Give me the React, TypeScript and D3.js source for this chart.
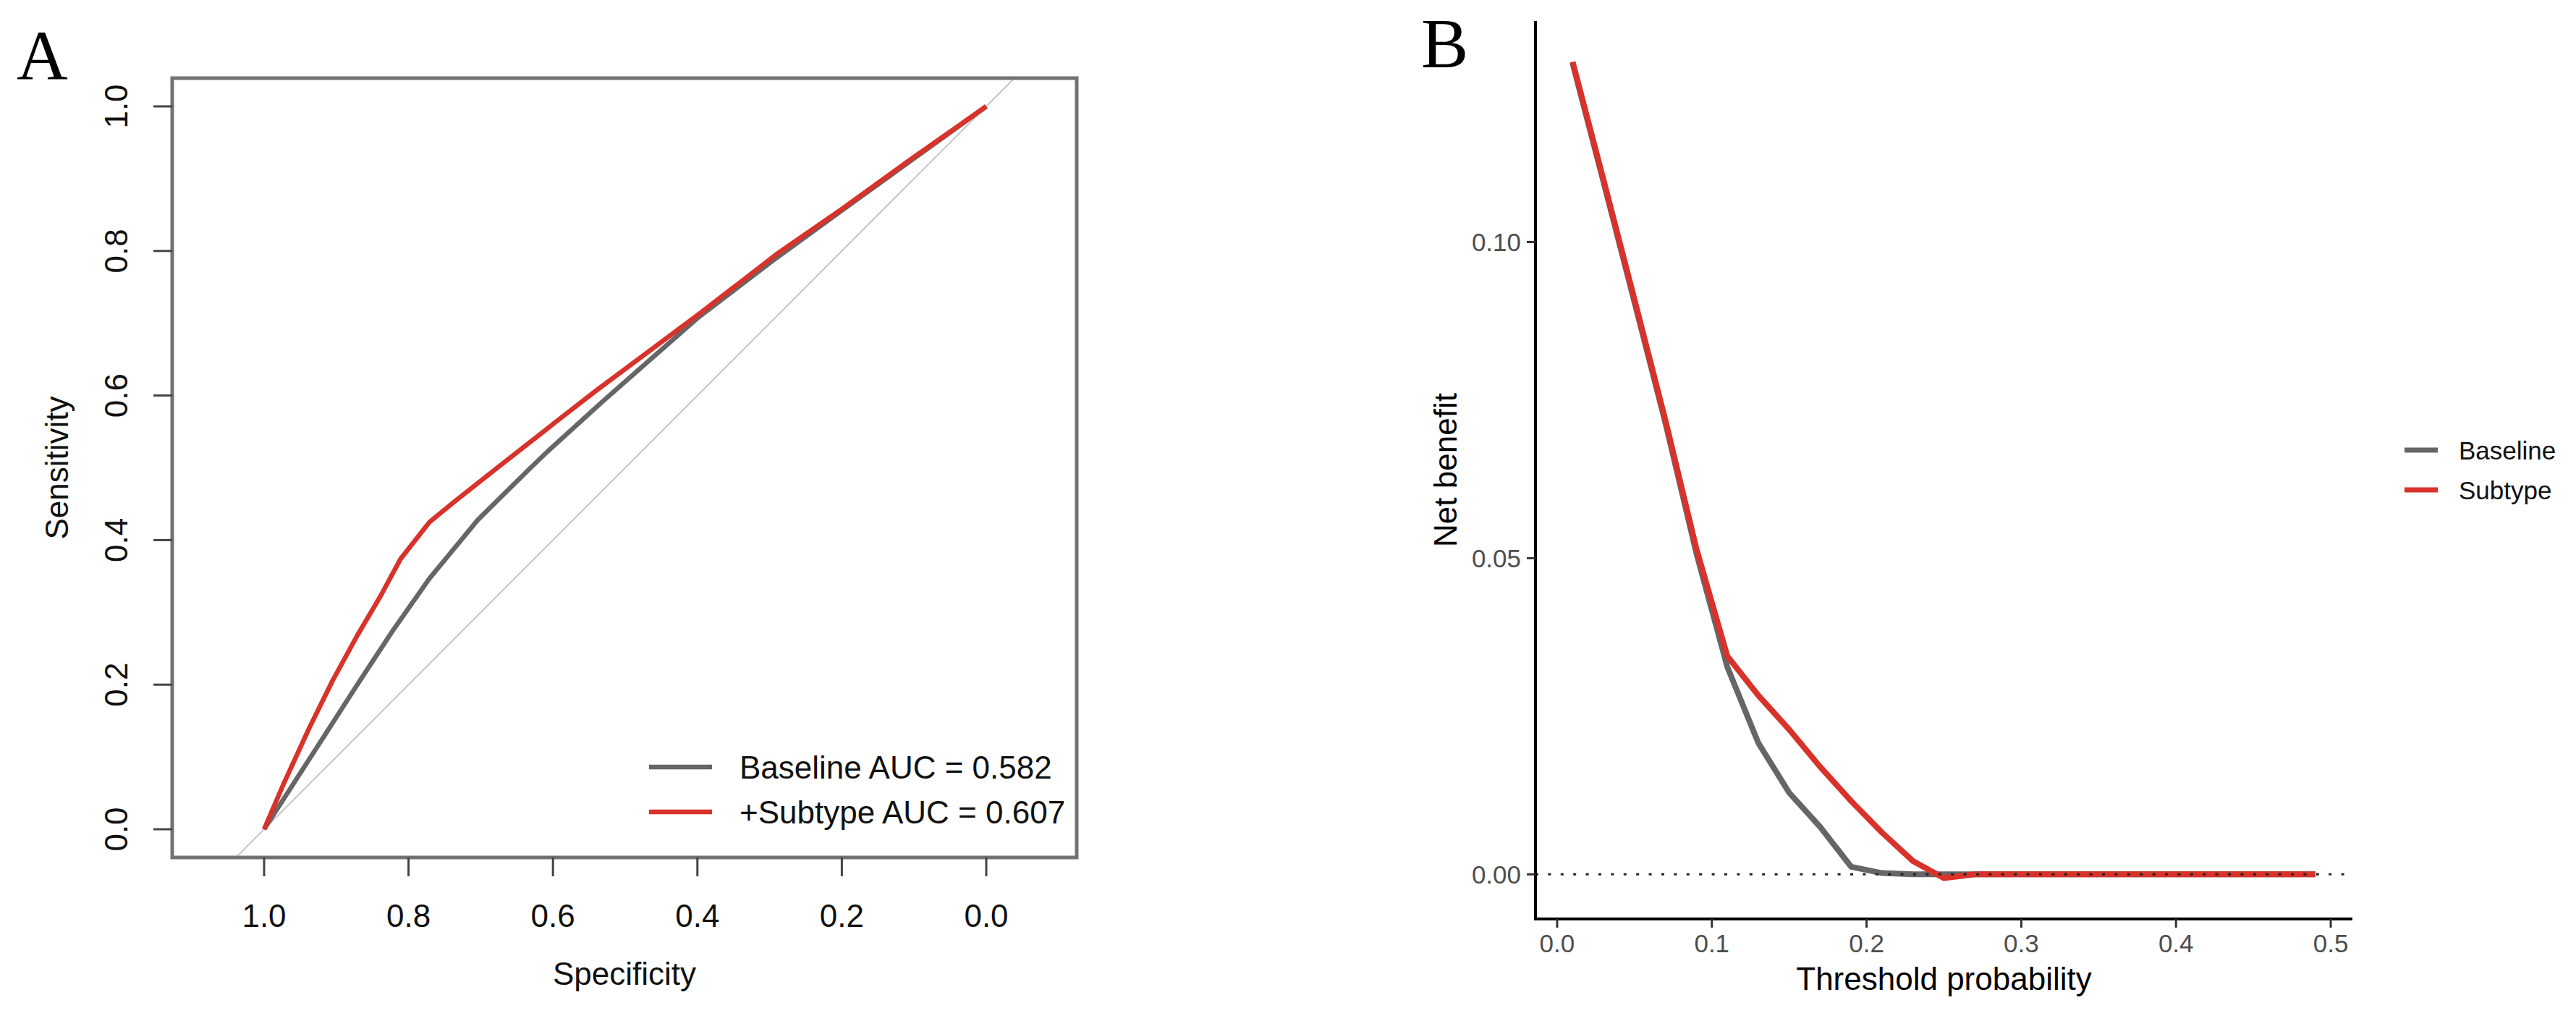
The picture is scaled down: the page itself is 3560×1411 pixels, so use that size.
import React from "react";
import * as d3 from "d3";

// ---- Panel A: ROC curves (specificity reversed on x) ----
const rocBaselineSpec = [1.0, 0.938, 0.871, 0.821, 0.771, 0.704, 0.631, 0.607, 0.531, 0.4, 0.291, 0.2, 0.1, 0.0];
const rocBaselineSens = [0.0, 0.096, 0.2, 0.276, 0.347, 0.428, 0.5, 0.523, 0.592, 0.707, 0.79, 0.856, 0.928, 1.0];

const rocSubtypeSpec = [1.0, 0.972, 0.938, 0.905, 0.871, 0.838, 0.811, 0.771, 0.738, 0.681, 0.598, 0.54, 0.396, 0.291, 0.2, 0.1, 0.0];
const rocSubtypeSens = [0.0, 0.065, 0.139, 0.206, 0.268, 0.324, 0.374, 0.425, 0.452, 0.497, 0.562, 0.607, 0.714, 0.795, 0.858, 0.93, 1.0];

const rocXTicks = [1.0, 0.8, 0.6, 0.4, 0.2, 0.0];
const rocYTicks = [0.0, 0.2, 0.4, 0.6, 0.8, 1.0];
const rocLegend = ["Baseline AUC = 0.582", "+Subtype AUC = 0.607"];

// ---- Panel B: decision curve ----
const thresholds = [0.01, 0.03, 0.05, 0.07, 0.09, 0.11, 0.13, 0.15, 0.17, 0.19, 0.21, 0.23, 0.25,
  0.27, 0.29, 0.31, 0.33, 0.35, 0.37, 0.39, 0.41, 0.43, 0.45, 0.47, 0.49];
const nbBaseline = [0.1283, 0.1095, 0.0905, 0.0714, 0.0508, 0.0328, 0.0208, 0.0129, 0.0075, 0.0012, 0.0002, 0, 0,
  0, 0, 0, 0, 0, 0, 0, 0, 0, 0, 0, 0];
const nbSubtype = [0.1285, 0.1098, 0.0909, 0.0718, 0.0515, 0.0345, 0.0283, 0.0229, 0.017, 0.0116, 0.0066, 0.0021, -0.0006,
  0, 0, 0, 0, 0, 0, 0, 0, 0, 0, 0, 0];
const dcaXTicks = [0.0, 0.1, 0.2, 0.3, 0.4, 0.5];
const dcaYTicks = [0.0, 0.05, 0.1];
const dcaSeries = ["Baseline", "Subtype"];

const RED = "#d8322a";
const GREY = "#666666";
const SANS = "'Liberation Sans', Arial, sans-serif";
const SERIF = "'Liberation Serif', 'Times New Roman', serif";

export default function App() {
  // Panel A geometry
  const boxA = { left: 238, right: 1488, top: 108, bottom: 1185 };
  const xA = d3.scaleLinear().domain([1, 0]).range([365, 1363]);
  const yA = d3.scaleLinear().domain([0, 1]).range([1146, 147]);
  const lineA = d3.line<[number, number]>().x((d) => xA(d[0])).y((d) => yA(d[1]));
  const baseRoc = rocBaselineSpec.map((s, i) => [s, rocBaselineSens[i]] as [number, number]);
  const subRoc = rocSubtypeSpec.map((s, i) => [s, rocSubtypeSens[i]] as [number, number]);
  const diagLo = xA.invert(boxA.left);
  const diagHi = xA.invert(boxA.right);
  const diag: [number, number][] = [[diagLo, 1 - diagLo], [diagHi, 1 - diagHi]];
  const fmt1 = d3.format(".1f");
  const fmt2 = d3.format(".2f");

  // Panel B geometry
  const xB = d3.scaleLinear().domain([-0.014, 0.514]).range([2122, 3251]);
  const yB = d3.scaleLinear().domain([-0.00706, 0.13496]).range([1270, 29]);
  const lineB = d3.line<number>().x((_, i) => xB(thresholds[i])).y((d) => yB(d));

  return (
    <svg width={3560} height={1411} style={{ position: "absolute", left: 0, top: 0, background: "#fff" }}>
      <rect x={0} y={0} width={3560} height={1411} fill="#fff" />
      <defs>
        <clipPath id="clipA">
          <rect x={boxA.left} y={boxA.top} width={boxA.right - boxA.left} height={boxA.bottom - boxA.top} />
        </clipPath>
      </defs>

      {/* ---------- Panel A ---------- */}
      <text x={23} y={109} fontFamily={SERIF} fontSize={98} fill="#000">A</text>

      <path d={lineA(diag) || ""} stroke="#c4c4c4" strokeWidth={2} fill="none" clipPath="url(#clipA)" />
      <path d={lineA(baseRoc) || ""} stroke={GREY} strokeWidth={6.5} fill="none" strokeLinejoin="round" />
      <path d={lineA(subRoc) || ""} stroke={RED} strokeWidth={6.5} fill="none" strokeLinejoin="round" />

      <rect x={boxA.left} y={boxA.top} width={boxA.right - boxA.left} height={boxA.bottom - boxA.top}
        fill="none" stroke="#727272" strokeWidth={5} />

      {rocXTicks.map((t) => (
        <g key={"ax" + t}>
          <line x1={xA(t)} x2={xA(t)} y1={boxA.bottom} y2={boxA.bottom + 26} stroke="#444" strokeWidth={3} />
          <text x={xA(t)} y={1281} textAnchor="middle" fontFamily={SANS} fontSize={44} fill="#111">{fmt1(t)}</text>
        </g>
      ))}
      {rocYTicks.map((t) => (
        <g key={"ay" + t}>
          <line x1={boxA.left - 26} x2={boxA.left} y1={yA(t)} y2={yA(t)} stroke="#444" strokeWidth={3} />
          <text transform={`translate(176,${yA(t)}) rotate(-90)`} textAnchor="middle" fontFamily={SANS} fontSize={44} fill="#111">{fmt1(t)}</text>
        </g>
      ))}
      <text x={(boxA.left + boxA.right) / 2} y={1361} textAnchor="middle" fontFamily={SANS} fontSize={44} fill="#111">Specificity</text>
      <text transform={`translate(94,${(boxA.top + boxA.bottom) / 2}) rotate(-90)`} textAnchor="middle" fontFamily={SANS} fontSize={44} fill="#111">Sensitivity</text>

      {rocLegend.map((label, i) => (
        <g key={label}>
          <line x1={897} x2={984} y1={1060 + i * 62} y2={1060 + i * 62} stroke={i === 0 ? GREY : RED} strokeWidth={6.5} />
          <text x={1022} y={1076 + i * 62} fontFamily={SANS} fontSize={44} fill="#111">{label}</text>
        </g>
      ))}

      {/* ---------- Panel B ---------- */}
      <text x={1964} y={93} fontFamily={SERIF} fontSize={98} fill="#000">B</text>

      <path d={lineB(nbBaseline) || ""} stroke={GREY} strokeWidth={8} fill="none" strokeLinejoin="round" />
      <path d={lineB(nbSubtype) || ""} stroke={RED} strokeWidth={8} fill="none" strokeLinejoin="round" />
      <line x1={2122} x2={3251} y1={yB(0)} y2={yB(0)} stroke="#222" strokeWidth={3} strokeDasharray="4 13.4" />

      <line x1={2122} x2={2122} y1={29} y2={1272} stroke="#000" strokeWidth={4} />
      <line x1={2120} x2={3251} y1={1270} y2={1270} stroke="#000" strokeWidth={4} />

      {dcaXTicks.map((t) => (
        <g key={"bx" + t}>
          <line x1={xB(t)} x2={xB(t)} y1={1270} y2={1282} stroke="#333" strokeWidth={3} />
          <text x={xB(t)} y={1315.5} textAnchor="middle" fontFamily={SANS} fontSize={35} fill="#4d4d4d">{fmt1(t)}</text>
        </g>
      ))}
      {dcaYTicks.map((t) => (
        <g key={"by" + t}>
          <line x1={2110} x2={2122} y1={yB(t)} y2={yB(t)} stroke="#333" strokeWidth={3} />
          <text x={2102} y={yB(t) + 12.5} textAnchor="end" fontFamily={SANS} fontSize={35} fill="#4d4d4d">{fmt2(t)}</text>
        </g>
      ))}
      <text x={(2122 + 3251) / 2} y={1368} textAnchor="middle" fontFamily={SANS} fontSize={44} fill="#000">Threshold probability</text>
      <text transform={`translate(2013,${(29 + 1270) / 2}) rotate(-90)`} textAnchor="middle" fontFamily={SANS} fontSize={44} fill="#000">Net benefit</text>

      {dcaSeries.map((name, i) => (
        <g key={name}>
          <line x1={3323} x2={3369} y1={622 + i * 55} y2={622 + i * 55} stroke={i === 0 ? GREY : RED} strokeWidth={7} />
          <text x={3398} y={635 + i * 55} fontFamily={SANS} fontSize={35} fill="#111">{name}</text>
        </g>
      ))}
    </svg>
  );
}
